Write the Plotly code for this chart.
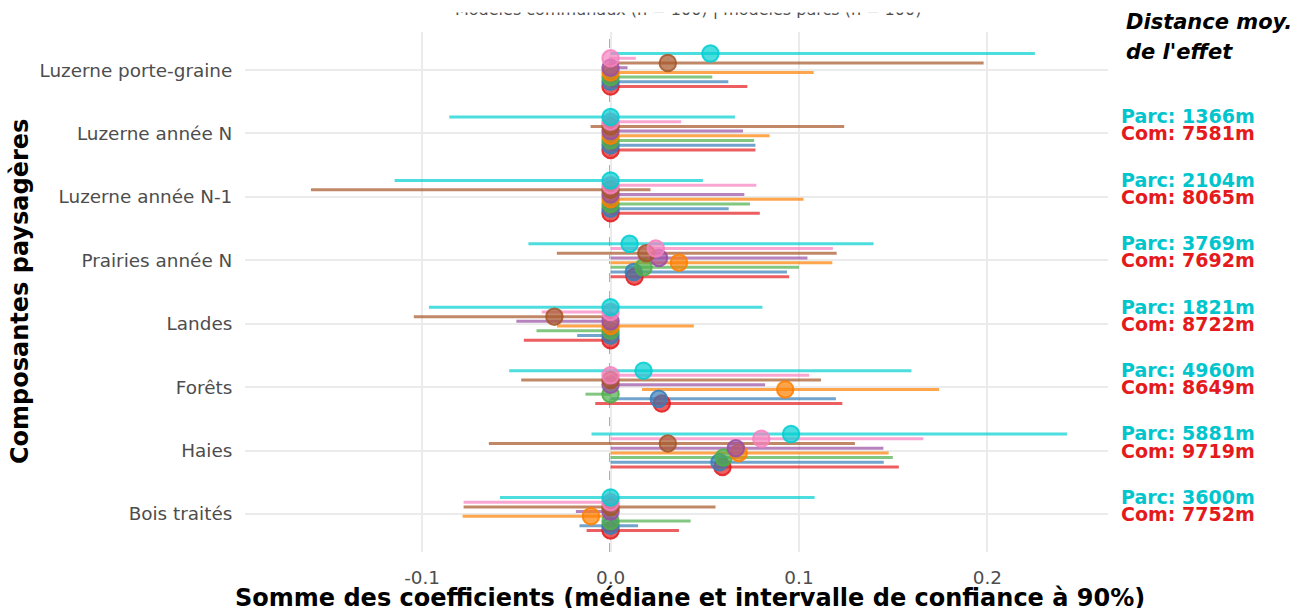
import plotly.graph_objects as go

categories = ["Luzerne porte-graine", "Luzerne année N", "Luzerne année N-1", "Prairies année N",
              "Landes", "Forêts", "Haies", "Bois traités"]

# series order: top-to-bottom within each category
series_names = ["Parc", "Modèle 7", "Modèle 6", "Modèle 5", "Modèle 4", "Modèle 3", "Modèle 2", "Com"]
series_colors = ["#00CED1", "#F781BF", "#A65628", "#984EA3", "#FF7F00", "#4DAF4A", "#377EB8", "#E41A1C"]

med_parc = [0.053, 0, 0, 0.0101, 0, 0.0175, 0.0958, 0]
low_parc = [0.0, -0.0856, -0.1146, -0.0436, -0.0964, -0.0538, -0.0101, -0.0587]
high_parc = [0.2252, 0.066, 0.049, 0.1396, 0.0806, 0.1597, 0.2422, 0.1083]

med_m7 = [0, 0, 0, 0.024, 0, 0, 0.080, 0]
low_m7 = [0, 0, 0, 0, -0.0365, 0, 0, -0.078]
high_m7 = [0.0134, 0.0375, 0.0774, 0.118, 0, 0.1054, 0.166, 0]

med_m6 = [0.0304, 0, 0, 0.019, -0.0298, 0, 0.0304, 0]
low_m6 = [0, -0.0106, -0.159, -0.0285, -0.1044, -0.0474, -0.0646, -0.078]
high_m6 = [0.198, 0.124, 0.0212, 0.120, 0, 0.1117, 0.1297, 0.0557]

med_m5 = [0, 0, 0, 0.0257, 0, 0, 0.0665, 0]
low_m5 = [0, 0, 0, 0, -0.05, 0, 0, -0.0184]
high_m5 = [0.009, 0.0703, 0.071, 0.1045, 0, 0.082, 0.1448, 0]

med_m4 = [0, 0, 0, 0.0363, 0, 0.0927, 0.068, -0.0104]
low_m4 = [0, 0, 0, 0, -0.0284, 0.0167, 0, -0.0785]
high_m4 = [0.1078, 0.0844, 0.1024, 0.1177, 0.0442, 0.1744, 0.1476, 0]

med_m3 = [0, 0, 0, 0.0175, 0, 0, 0.060, 0]
low_m3 = [0, 0, 0, 0, -0.0393, -0.0133, 0, 0]
high_m3 = [0.054, 0.0762, 0.074, 0.100, 0, 0, 0.1498, 0.0425]

med_m2 = [0, 0, 0, 0.0123, 0, 0.0256, 0.0578, 0]
low_m2 = [0, 0, 0, 0, -0.0177, 0, 0, -0.0165]
high_m2 = [0.0625, 0.0769, 0.0627, 0.0936, 0, 0.1196, 0.145, 0.0146]

med_com = [0, 0, 0, 0.0127, 0, 0.0272, 0.0594, 0]
low_com = [0, 0, 0, 0, -0.046, -0.0081, 0, -0.0127]
high_com = [0.0726, 0.0769, 0.0792, 0.0948, 0, 0.123, 0.153, 0.0363]

meds = [med_parc, med_m7, med_m6, med_m5, med_m4, med_m3, med_m2, med_com]
lows = [low_parc, low_m7, low_m6, low_m5, low_m4, low_m3, low_m2, low_com]
highs = [high_parc, high_m7, high_m6, high_m5, high_m4, high_m3, high_m2, high_com]

# mean effect distances (none for the first category)
dist_parc = [None, 1366, 2104, 3769, 1821, 4960, 5881, 3600]
dist_com = [None, 7581, 8065, 7692, 8722, 8649, 9719, 7752]

x_ticks = [-0.1, 0.0, 0.1, 0.2]
x_tick_labels = ["-0.1", "0.0", "0.1", "0.2"]

n_cat = len(categories)
ypos = [n_cat - i for i in range(n_cat)]
n_ser = len(series_names)
step = 0.0741


def rgba(hexc, a):
    h = hexc.lstrip("#")
    return "rgba(%d,%d,%d,%s)" % (int(h[0:2], 16), int(h[2:4], 16), int(h[4:6], 16), a)


fig = go.Figure()

# interval lines
for k in range(n_ser):
    off = (3.5 - k) * step
    xs, ys = [], []
    for i in range(n_cat):
        xs += [lows[k][i], highs[k][i], None]
        ys += [ypos[i] + off, ypos[i] + off, None]
    fig.add_trace(go.Scatter(x=xs, y=ys, mode="lines", name=series_names[k],
                             line=dict(color=rgba(series_colors[k], 0.7), width=3),
                             showlegend=False, hoverinfo="skip"))

# median points
for k in reversed(range(n_ser)):
    off = (3.5 - k) * step
    fig.add_trace(go.Scatter(x=meds[k], y=[p + off for p in ypos], mode="markers",
                             name=series_names[k],
                             marker=dict(size=16.5, color=rgba(series_colors[k], 0.7),
                                         line=dict(color=rgba(series_colors[k], 0.85), width=2)),
                             showlegend=False))

fig.add_shape(type="line", xref="x", yref="paper", x0=0, x1=0, y0=0, y1=1,
              line=dict(color="#4D4D4D", width=2, dash="dash"), layer="below")

annotations = []
for i in range(n_cat):
    if dist_parc[i] is None:
        continue
    annotations.append(dict(xref="paper", yref="y", x=1.0125, y=ypos[i] + 0.27, xanchor="left",
                            yanchor="middle", showarrow=False,
                            text="<b>Parc: %dm</b>" % dist_parc[i],
                            font=dict(size=19, color="#00C5CD", family="DejaVu Sans")))
    annotations.append(dict(xref="paper", yref="y", x=1.0125, y=ypos[i], xanchor="left",
                            yanchor="middle", showarrow=False,
                            text="<b>Com: %dm</b>" % dist_com[i],
                            font=dict(size=19, color="#E41A1C", family="DejaVu Sans")))

annotations.append(dict(xref="paper", yref="paper", x=1.0185, y=(552 - 22) / 520, xanchor="left",
                        yanchor="middle", showarrow=False,
                        text="<b><i>Distance moy.</i></b>",
                        font=dict(size=21, color="#000000", family="DejaVu Sans")))
annotations.append(dict(xref="paper", yref="paper", x=1.0185, y=(552 - 52) / 520, xanchor="left",
                        yanchor="middle", showarrow=False,
                        text="<b><i>de l'effet</i></b>",
                        font=dict(size=21, color="#000000", family="DejaVu Sans")))

# subtitle, clipped at the top in the reference: only its lowest pixels show
annotations.append(dict(xref="paper", yref="paper", x=(688 - 245) / 863, y=(552 - 20.5) / 520,
                        xanchor="center", yanchor="bottom", showarrow=False,
                        text="Modèles communaux (n = 100) | modèles parcs (n = 100)",
                        font=dict(size=16, color="#4D4D4D", family="DejaVu Sans")))
# white band hiding the upper part of the subtitle
annotations.append(dict(xref="paper", yref="paper", x=(688 - 245) / 863, y=(552 - 13.5) / 520,
                        xanchor="center", yanchor="bottom", showarrow=False,
                        text="█" * 40, bgcolor="#FFFFFF", borderpad=0,
                        font=dict(size=30, color="#FFFFFF", family="DejaVu Sans")))

annotations.append(dict(xref="paper", yref="paper", x=(690 - 245) / 863, y=(552 - 598) / 520,
                        xanchor="center", yanchor="middle", showarrow=False,
                        text="<b>Somme des coefficients (médiane et intervalle de confiance à 90%)</b>",
                        font=dict(size=24, color="#000000", family="DejaVu Sans")))
annotations.append(dict(xref="paper", yref="paper", x=(20 - 245) / 863, y=0.5, xanchor="center",
                        yanchor="middle", showarrow=False, textangle=-90,
                        text="<b>Composantes paysagères</b>",
                        font=dict(size=24, color="#000000", family="DejaVu Sans")))

fig.update_layout(
    width=1294, height=608,
    margin=dict(l=245, r=186, t=32, b=56),
    plot_bgcolor="white", paper_bgcolor="white",
    font=dict(family="DejaVu Sans"),
    annotations=annotations,
    xaxis=dict(range=[-0.194, 0.264], tickvals=x_ticks, ticktext=x_tick_labels,
               showgrid=True, gridcolor="#EBEBEB", gridwidth=2, zeroline=False,
               tickfont=dict(size=18.4, color="#4D4D4D"), ticks="outside", ticklen=9,
               tickcolor="rgba(0,0,0,0)"),
    yaxis=dict(range=[0.4, 8.6], tickvals=ypos, ticktext=categories,
               showgrid=True, gridcolor="#EBEBEB", gridwidth=2, zeroline=False,
               tickfont=dict(size=18.4, color="#4D4D4D"), ticks="outside", ticklen=8,
               tickcolor="rgba(0,0,0,0)"),
)

fig.write_html("out.html", config={"displayModeBar": False},
               post_script="document.body.style.margin='0';")
